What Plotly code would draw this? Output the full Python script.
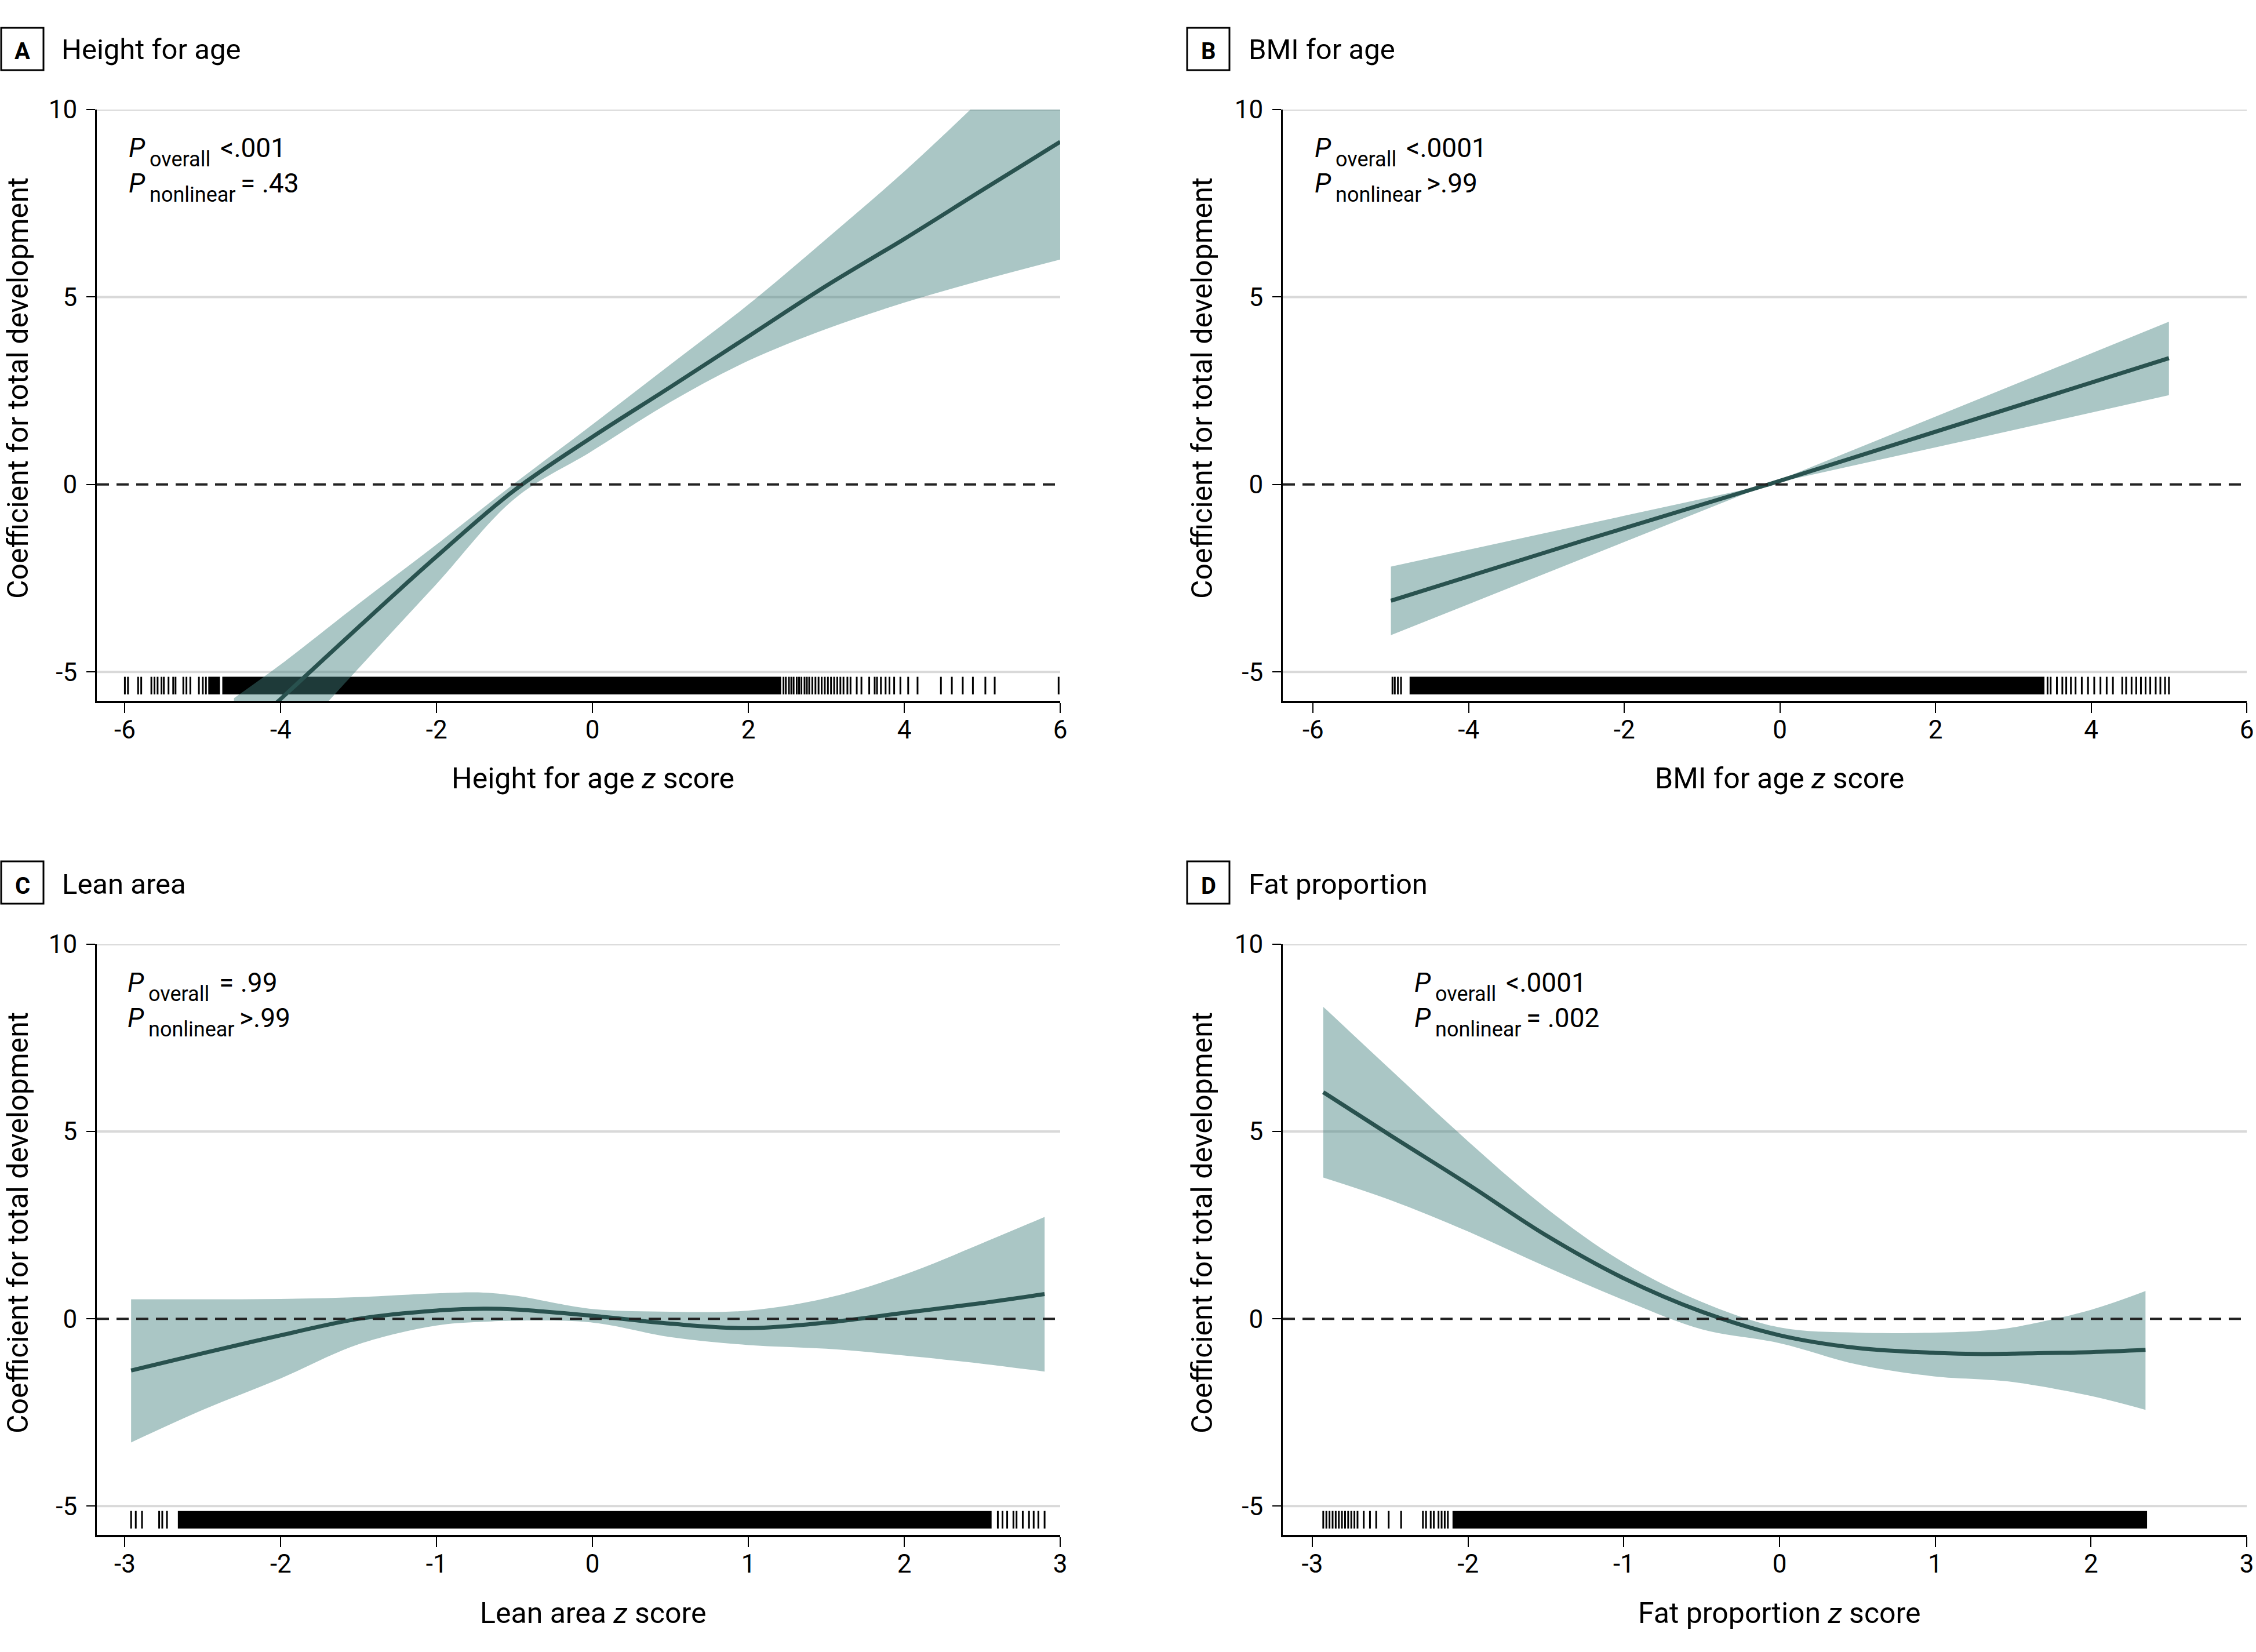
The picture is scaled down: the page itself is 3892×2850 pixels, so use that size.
import plotly.graph_objects as go

W, H = 3892, 2850

# ---------------- data ----------------
A_x   = [-4.6, -4.0, -3.0, -2.0, -1.0, 0.0, 1.0, 2.0, 3.0, 4.0, 5.0, 6.0]
A_fit = [-6.85, -5.72, -3.8, -1.92, -0.15, 1.27, 2.6, 3.95, 5.3, 6.55, 7.85, 9.14]
A_hi  = [-5.7, -4.8, -3.18, -1.6, 0.03, 1.6, 3.2, 4.8, 6.55, 8.35, 10.3, 12.3]
A_lo  = [-8.5, -7.17, -4.9, -2.65, -0.38, 0.9, 2.2, 3.3, 4.15, 4.85, 5.45, 6.0]

B_x   = [-5.0, -2.5, -0.15, 2.5, 5.0]
B_fit = [-3.1, -1.48, 0.0, 1.73, 3.37]
B_hi  = [-2.19, -1.06, 0.0, 2.23, 4.34]
B_lo  = [-4.02, -1.95, 0.0, 1.22, 2.38]

C_x   = [-2.96, -2.5, -2.0, -1.5, -1.0, -0.7, -0.5, 0.0, 0.5, 1.0, 1.5, 2.0, 2.5, 2.9]
C_fit = [-1.38, -0.92, -0.44, 0.0, 0.22, 0.27, 0.25, 0.08, -0.13, -0.25, -0.1, 0.16, 0.42, 0.66]
C_hi  = [0.52, 0.52, 0.53, 0.58, 0.68, 0.7, 0.62, 0.26, 0.19, 0.22, 0.55, 1.18, 2.02, 2.72]
C_lo  = [-3.3, -2.43, -1.59, -0.68, -0.18, -0.08, -0.05, -0.1, -0.49, -0.7, -0.8, -0.98, -1.2, -1.41]

D_x   = [-2.93, -2.5, -2.0, -1.5, -1.0, -0.5, 0.0, 0.5, 1.0, 1.3, 1.5, 2.0, 2.35]
D_fit = [6.05, 4.9, 3.59, 2.23, 1.08, 0.19, -0.44, -0.78, -0.91, -0.94, -0.93, -0.89, -0.83]
D_hi  = [8.33, 6.66, 4.74, 2.96, 1.5, 0.45, -0.23, -0.37, -0.37, -0.32, -0.23, 0.24, 0.74]
D_lo  = [3.77, 3.17, 2.33, 1.39, 0.5, -0.28, -0.65, -1.22, -1.54, -1.62, -1.69, -2.06, -2.43]

# rug: isolated observation ticks and spans that are solid black
A_rug_ticks = [-6.0, -5.96, -5.83, -5.79, -5.66, -5.62, -5.58, -5.53, -5.50, -5.44, -5.38,
               -5.35, -5.25, -5.21, -5.16, -5.05, -5.0, -4.96,
               2.45, 2.48, 2.52, 2.55, 2.58, 2.62, 2.65, 2.68, 2.72, 2.75, 2.78, 2.82,
               2.86, 2.9, 2.94, 2.98, 3.02, 3.06, 3.1, 3.14, 3.18, 3.22, 3.27, 3.31,
               3.39, 3.45, 3.55, 3.62, 3.65, 3.70, 3.76, 3.81, 3.87, 3.95, 4.05, 4.17,
               4.47, 4.61, 4.75, 4.88, 5.04, 5.16, 5.98]
A_rug_spans = [(-4.93, -4.78), (-4.75, 2.42)]

B_rug_ticks = [-4.98, -4.95, -4.91, -4.87, 3.44, 3.48, 3.56, 3.63, 3.68, 3.74, 3.8, 3.88,
               3.96, 4.04, 4.12, 4.2, 4.28, 4.4, 4.45, 4.52, 4.58, 4.64, 4.7, 4.76, 4.83,
               4.89, 4.95, 5.0]
B_rug_spans = [(-4.76, 3.4)]

C_rug_ticks = [-2.96, -2.93, -2.89, -2.78, -2.76, -2.73, 2.6, 2.63, 2.66, 2.7, 2.72,
               2.76, 2.8, 2.83, 2.86, 2.9]
C_rug_spans = [(-2.66, 2.56)]

D_rug_ticks = [-2.93, -2.91, -2.89, -2.87, -2.85, -2.83, -2.81, -2.79, -2.77, -2.75,
               -2.73, -2.71, -2.67, -2.63, -2.59, -2.51, -2.43, -2.29, -2.27, -2.24,
               -2.22, -2.19, -2.17, -2.15, -2.13]
D_rug_spans = [(-2.1, 2.36)]

x_ticks_AB = [-6, -4, -2, 0, 2, 4, 6]
x_labels_AB = ["-6", "-4", "-2", "0", "2", "4", "6"]
x_ticks_CD = [-3, -2, -1, 0, 1, 2, 3]
x_labels_CD = ["-3", "-2", "-1", "0", "1", "2", "3"]
y_ticks = [-5, 0, 5, 10]
y_labels = ["-5", "0", "5", "10"]
grid_values = [-5, 5, 10]

letters = ["A", "B", "C", "D"]
titles = ["Height for age", "BMI for age", "Lean area", "Fat proportion"]
x_titles = ["Height for age <i>z</i> score", "BMI for age <i>z</i> score",
            "Lean area <i>z</i> score", "Fat proportion <i>z</i> score"]
y_title = "Coefficient for total development"
p_overall = ["&lt;.001", "&lt;.0001", "= .99", "&lt;.0001"]
p_nonlinear = ["= .43", "&gt;.99", "&gt;.99", "= .002"]

# ---------------- style ----------------
FONT = "Roboto"
LINE_COLOR = "#29524f"
BAND_COLOR = "rgba(67,129,127,0.45)"
GRID_COLOR = "#d9d9d9"
RUG_TOP, RUG_BOTTOM = -5.13, -5.6
Y_RANGE = [-5.77, 10]

def px_x(p):
    return p / W

def px_y(p):
    return 1 - p / H

def text_at(x, baseline, txt, size, xanchor="left", angle=0):
    # place text by its baseline (Roboto: bbox centre ~0.342 em above baseline)
    return dict(xref="paper", yref="paper", x=px_x(x), y=px_y(baseline - 0.342 * size),
                text=txt, showarrow=False, xanchor=xanchor, yanchor="middle",
                textangle=angle, borderpad=0,
                font=dict(family=FONT, size=size, color="black"))

panels = [
    dict(x=A_x, fit=A_fit, hi=A_hi, lo=A_lo, ticks=A_rug_ticks, spans=A_rug_spans,
         xr=[-6.36, 6], xt=x_ticks_AB, xl=x_labels_AB, shape="spline",
         dom_x=(167, 1829), dom_y=(189, 1209), p_left=221, p_base=271,
         box=(2, 48), title_x=105, title_base=102, ytitle=(31, 670), xtitle=(1023, 1360)),
    dict(x=B_x, fit=B_fit, hi=B_hi, lo=B_lo, ticks=B_rug_ticks, spans=B_rug_spans,
         xr=[-6.39, 6], xt=x_ticks_AB, xl=x_labels_AB, shape="linear",
         dom_x=(2213, 3876), dom_y=(189, 1209), p_left=2267, p_base=271,
         box=(2048, 48), title_x=2153, title_base=102, ytitle=(2074, 670), xtitle=(3070, 1360)),
    dict(x=C_x, fit=C_fit, hi=C_hi, lo=C_lo, ticks=C_rug_ticks, spans=C_rug_spans,
         xr=[-3.18, 3], xt=x_ticks_CD, xl=x_labels_CD, shape="spline",
         dom_x=(167, 1829), dom_y=(1629, 2648), p_left=219, p_base=1711,
         box=(2, 1486), title_x=106, title_base=1542, ytitle=(31, 2110), xtitle=(1023, 2800)),
    dict(x=D_x, fit=D_fit, hi=D_hi, lo=D_lo, ticks=D_rug_ticks, spans=D_rug_spans,
         xr=[-3.19, 3], xt=x_ticks_CD, xl=x_labels_CD, shape="spline",
         dom_x=(2213, 3876), dom_y=(1629, 2648), p_left=2439, p_base=1711,
         box=(2048, 1486), title_x=2153, title_base=1542, ytitle=(2074, 2110), xtitle=(3070, 2800)),
]

fig = go.Figure()
shapes = []
annotations = []

for i, p in enumerate(panels):
    n = "" if i == 0 else str(i + 1)
    xa, ya = "x" + n, "y" + n

    # rug spans (solid blocks)
    sx, sy = [], []
    for a, b in p["spans"]:
        sx += [a, b, b, a, a, None]
        sy += [RUG_TOP, RUG_TOP, RUG_BOTTOM, RUG_BOTTOM, RUG_TOP, None]
    fig.add_trace(go.Scatter(x=sx, y=sy, xaxis=xa, yaxis=ya, mode="lines", fill="toself",
                             fillcolor="black", line=dict(width=0, color="black"),
                             hoverinfo="skip", showlegend=False))
    # rug ticks
    tx, ty = [], []
    for t in p["ticks"]:
        tx += [t, t, None]
        ty += [RUG_TOP, RUG_BOTTOM, None]
    fig.add_trace(go.Scatter(x=tx, y=ty, xaxis=xa, yaxis=ya, mode="lines",
                             line=dict(width=3, color="black"),
                             hoverinfo="skip", showlegend=False))
    # confidence band
    fig.add_trace(go.Scatter(x=p["x"], y=p["lo"], xaxis=xa, yaxis=ya, mode="lines",
                             line=dict(width=0, color=BAND_COLOR, shape=p["shape"]),
                             hoverinfo="skip", showlegend=False))
    fig.add_trace(go.Scatter(x=p["x"], y=p["hi"], xaxis=xa, yaxis=ya, mode="lines",
                             fill="tonexty", fillcolor=BAND_COLOR,
                             line=dict(width=0, color=BAND_COLOR, shape=p["shape"]),
                             hoverinfo="skip", showlegend=False))
    # fitted curve
    fig.add_trace(go.Scatter(x=p["x"], y=p["fit"], xaxis=xa, yaxis=ya, mode="lines",
                             line=dict(width=7, color=LINE_COLOR, shape=p["shape"]),
                             showlegend=False))

    x0, x1 = p["dom_x"]
    yt, yb = p["dom_y"]
    fig.update_layout(**{
        "xaxis" + n: dict(domain=[px_x(x0), px_x(x1)], range=p["xr"], anchor=ya,
                          tickvals=p["xt"], ticktext=p["xl"], ticks="outside", ticklen=17,
                          tickwidth=2, tickcolor="black", showline=True, linewidth=4,
                          linecolor="black", showgrid=False, zeroline=False, automargin=False,
                          ticklabelstandoff=-9,
                          tickfont=dict(family=FONT, size=44, color="black")),
        "yaxis" + n: dict(domain=[px_y(yb), px_y(yt)], range=Y_RANGE, anchor=xa,
                          tickvals=y_ticks, ticktext=y_labels, ticks="outside", ticklen=15,
                          tickwidth=2, tickcolor="black", showline=True, linewidth=3,
                          linecolor="black", showgrid=False, zeroline=False, automargin=False,
                          ticklabelstandoff=7,
                          tickfont=dict(family=FONT, size=44, color="black")),
    })

    # gridlines and dashed reference line
    for g in grid_values:
        shapes.append(dict(type="line", xref=xa + " domain", yref=ya, x0=0, x1=1, y0=g, y1=g,
                           line=dict(color=GRID_COLOR, width=4), layer="below"))
    shapes.append(dict(type="line", xref=xa + " domain", yref=ya, x0=0, x1=1, y0=0, y1=0,
                       line=dict(color="#222222", width=4, dash="21px,13px"), layer="above"))

    # panel letter box and title
    bx, by = p["box"]
    shapes.append(dict(type="rect", xref="paper", yref="paper",
                       x0=px_x(bx), x1=px_x(bx + 73), y0=px_y(by + 73), y1=px_y(by),
                       line=dict(color="black", width=3), fillcolor="white"))
    annotations.append(text_at(bx + 36.5, p["title_base"], "<b>%s</b>" % letters[i], 40,
                               xanchor="center"))
    annotations.append(text_at(p["title_x"], p["title_base"], titles[i], 49))

    # axis titles
    yx, yc = p["ytitle"]
    annotations.append(dict(xref="paper", yref="paper", x=px_x(yx), y=px_y(yc),
                            text=y_title, textangle=-90, showarrow=False,
                            xanchor="center", yanchor="middle", borderpad=0,
                            font=dict(family=FONT, size=50, color="black")))
    annotations.append(text_at(p["xtitle"][0], p["xtitle"][1], x_titles[i], 50,
                               xanchor="center"))

    # P values: italic P, subscript label, value
    pl, pb = p["p_left"], p["p_base"]
    for k, (sub, val, voff) in enumerate([("overall", p_overall[i], 158),
                                          ("nonlinear", p_nonlinear[i], 193)]):
        base = pb + 61 * k
        annotations.append(text_at(pl, base, "<i>P</i>", 46))
        annotations.append(text_at(pl + 36, base + 16, sub, 36))
        annotations.append(text_at(pl + voff, base, val, 46))

fig.update_layout(width=W, height=H, margin=dict(l=0, r=0, t=0, b=0, autoexpand=False),
                  paper_bgcolor="white", plot_bgcolor="white",
                  shapes=shapes, annotations=annotations, showlegend=False)

fig.write_html("out.html", config={"displayModeBar": False},
               post_script="document.body.style.margin='0px';")
